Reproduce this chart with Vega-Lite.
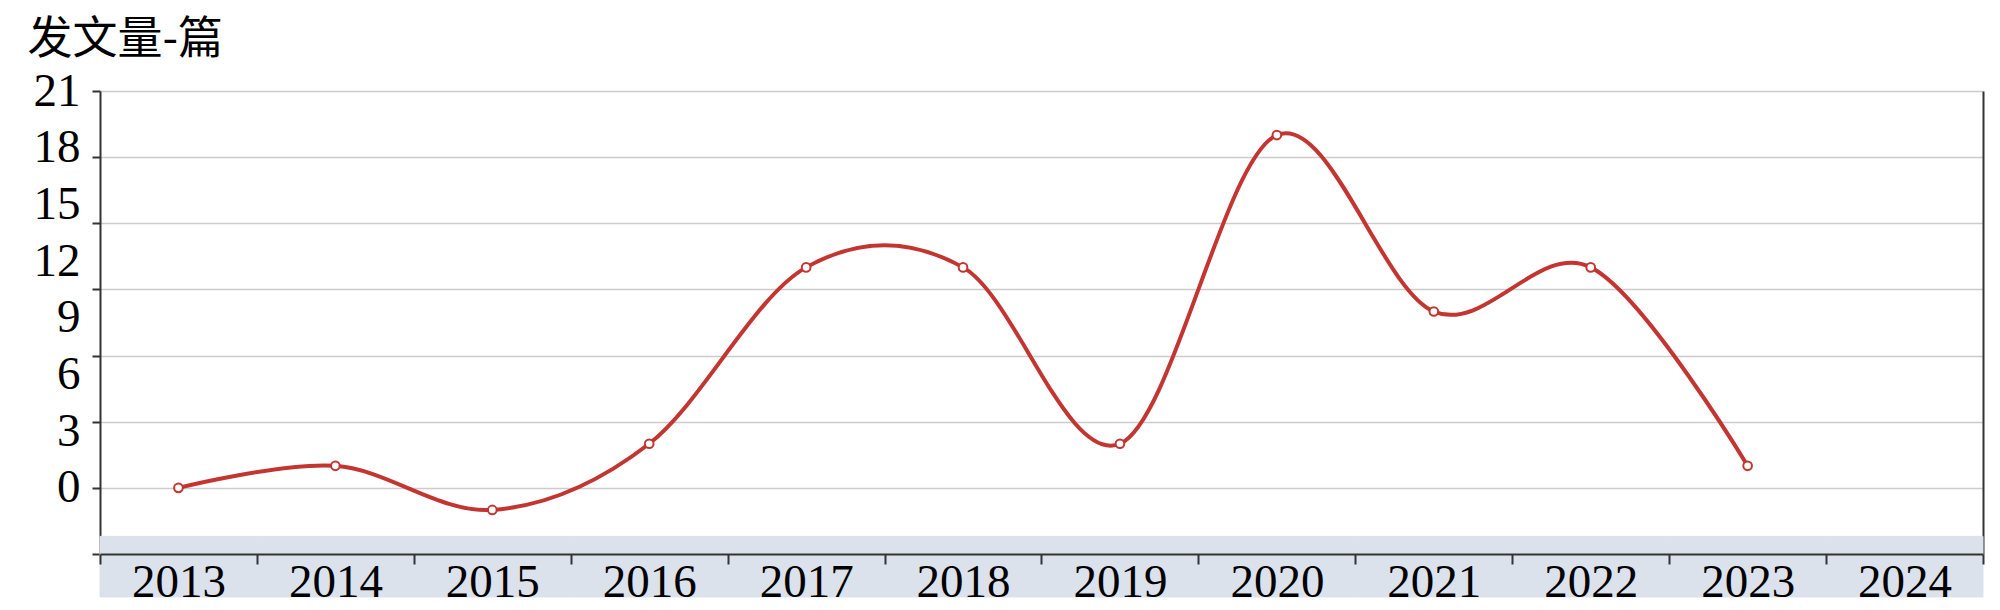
{
  "$schema": "https://vega.github.io/schema/vega-lite/v6.json",
  "autosize": "none",
  "padding": {"left": 100, "top": 91, "right": 17, "bottom": 56},
  "width": 1883,
  "height": 463,
  "background": "#ffffff",
  "config": {"view": {"stroke": null}},
  "data": {
    "values": [
      {"year": "2013", "value": 3},
      {"year": "2014", "value": 4},
      {"year": "2015", "value": 2},
      {"year": "2016", "value": 5},
      {"year": "2017", "value": 13},
      {"year": "2018", "value": 13},
      {"year": "2019", "value": 5},
      {"year": "2020", "value": 19},
      {"year": "2021", "value": 11},
      {"year": "2022", "value": 13},
      {"year": "2023", "value": 4},
      {"year": "2024", "value": null}
    ]
  },
  "encoding": {
    "x": {
      "field": "year",
      "type": "ordinal",
      "sort": null,
      "scale": {"type": "band", "paddingInner": 0, "paddingOuter": 0},
      "axis": {
        "title": null,
        "labelAngle": 0,
        "labelFont": "Liberation Serif",
        "labelFontSize": 47,
        "labelColor": "#000000",
        "labelBaseline": "middle",
        "labelPadding": 18,
        "tickBand": "extent",
        "tickSize": 10,
        "tickWidth": 2,
        "tickColor": "#333333",
        "domainColor": "#333333",
        "domainWidth": 2,
        "grid": false,
        "zindex": 1
      }
    }
  },
  "layer": [
    {
      "mark": {"type": "rect", "color": "#dce2eb", "stroke": "#dce2eb", "strokeWidth": 1},
      "encoding": {
        "y": {"datum": 0.8, "type": "quantitative", "axis": null},
        "y2": {"datum": -1.95}
      }
    },
    {
      "mark": {"type": "line", "color": "#c23531", "strokeWidth": 4, "interpolate": "cardinal", "tension": 0},
      "encoding": {
        "y": {
          "field": "value",
          "type": "quantitative",
          "scale": {"domain": [0, 21], "nice": false, "zero": false},
          "axis": {
            "orient": "left",
            "values": [0, 3, 5.571428571428571, 6, 8.142857142857142, 9, 10.714285714285714, 12, 13.285714285714286, 15, 15.857142857142858, 18, 18.428571428571427, 21],
            "labelExpr": "abs((datum.value-3)*7/6 - round((datum.value-3)*7/6)) < 0.01 && round((datum.value-3)*7/6) % 3 == 0 ? format(round((datum.value-3)*7/6), 'd') : ''",
            "labelOverlap": false,
            "labelFont": "Liberation Serif",
            "labelFontSize": 47,
            "labelColor": "#000000",
            "labelPadding": 12,
            "labelBaseline": "middle",
            "tickSize": 8,
            "tickWidth": 2,
            "tickColor": "#333333",
            "tickOpacity": {"condition": {"test": "abs(datum.value/3 - round(datum.value/3)) < 0.001", "value": 1}, "value": 0},
            "grid": true,
            "gridColor": "#cccccc",
            "gridWidth": 1.5,
            "gridOpacity": {"condition": {"test": "abs(datum.value/3 - round(datum.value/3)) < 0.001 && datum.value > 0", "value": 1}, "value": 0},
            "domainColor": "#333333",
            "domainWidth": 2,
            "title": "发文量-篇",
            "titleAngle": 0,
            "titleAlign": "left",
            "titleBaseline": "alphabetic",
            "titleX": -73,
            "titleY": -38,
            "titleFont": "Noto Sans CJK SC",
            "titleFontSize": 45,
            "titleFontWeight": "normal",
            "titleColor": "#000000"
          }
        }
      }
    },
    {
      "mark": {"type": "point", "filled": true, "fill": "#ffffff", "stroke": "#c23531", "strokeWidth": 2, "size": 75, "opacity": 1},
      "encoding": {
        "y": {
          "field": "value",
          "type": "quantitative",
          "axis": {
            "orient": "right",
            "labels": false,
            "ticks": false,
            "grid": false,
            "title": null,
            "domainColor": "#333333",
            "domainWidth": 2
          }
        }
      }
    }
  ],
  "resolve": {"axis": {"y": "independent"}}
}
